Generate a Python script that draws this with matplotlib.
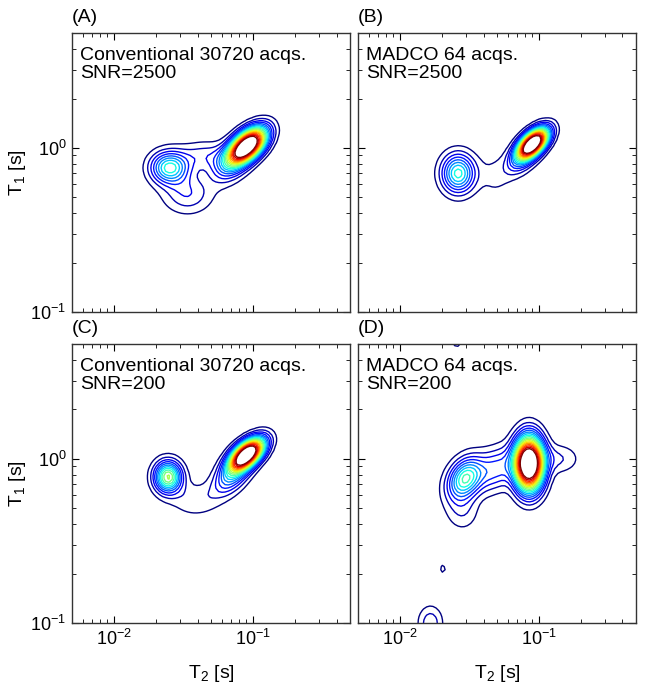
import numpy as np
import matplotlib.pyplot as plt
from matplotlib.ticker import LogLocator, NullFormatter

plt.rcParams['font.family'] = ['Liberation Sans', 'DejaVu Sans']
plt.rcParams['mathtext.fontset'] = 'custom'
plt.rcParams['mathtext.rm'] = 'Liberation Sans'
plt.rcParams['mathtext.it'] = 'Liberation Sans:italic'
plt.rcParams['mathtext.default'] = 'regular'

# peak components:
# log10 centres (T2, T1), log10 widths, tilt, relative height, peak flatness
A_T2 = [-1.03, -1.15, -1.64, -1.56, -1.47, -1.35]
A_T1 = [0.02, -0.08, -0.12, -0.12, -0.28, -0.05]
A_W2 = [0.095, 0.09, 0.08, 0.08, 0.12, 0.12]
A_W1 = [0.077, 0.08, 0.065, 0.065, 0.08, 0.06]
A_RHO = [0.5, 0.4, 0.0, 0.0, 0.0, 0.0]
A_AMP = [1.0, 0.3, 0.23, 0.23, 0.14, 0.12]
A_PWR = [1.15, 1.0, 1.0, 1.0, 1.0, 1.0]

B_T2 = [-1.04, -1.12, -1.58, -1.32]
B_T1 = [0.03, -0.06, -0.155, -0.17]
B_W2 = [0.08, 0.08, 0.08, 0.08]
B_W1 = [0.066, 0.07, 0.08, 0.10]
B_RHO = [0.55, 0.5, 0.0, 0.0]
B_AMP = [1.0, 0.22, 0.40, 0.05]
B_PWR = [1.15, 1.0, 1.0, 1.0]

C_T2 = [-1.04, -1.15, -1.61, -1.42]
C_T1 = [0.03, -0.10, -0.11, -0.25]
C_W2 = [0.09, 0.09, 0.066, 0.12]
C_W1 = [0.07, 0.08, 0.064, 0.07]
C_RHO = [0.55, 0.5, 0.0, 0.0]
C_AMP = [1.0, 0.28, 0.52, 0.08]
C_PWR = [1.15, 1.0, 1.0, 1.0]

D_T2 = [-1.07, -0.86, -1.53, -1.30, -1.55, -1.69, -1.78, -1.59]
D_T1 = [-0.03, 0.0, -0.12, -0.06, -0.32, -0.67, -1.0, 0.71]
D_W2 = [0.077, 0.10, 0.085, 0.10, 0.08, 0.02, 0.06, 0.03]
D_W1 = [0.12, 0.06, 0.085, 0.09, 0.08, 0.025, 0.07, 0.03]
D_RHO = [0.0, 0.0, 0.3, 0.3, 0.0, 0.0, 0.0, 0.0]
D_AMP = [1.0, 0.09, 0.40, 0.19, 0.08, 0.06, 0.12, 0.06]
D_PWR = [1.15, 1.0, 1.0, 1.0, 1.0, 1.0, 1.0, 1.0]

LABELS = ['(A)', '(B)', '(C)', '(D)']
NOTES = ['Conventional 30720 acqs.\nSNR=2500', 'MADCO 64 acqs.\nSNR=2500',
         'Conventional 30720 acqs.\nSNR=200', 'MADCO 64 acqs.\nSNR=200']
LEVELS = np.linspace(0.04, 0.78, 18)

T2_LIM = (0.005, 0.5)
T1_LIM = (0.1, 5.0)


def spectrum(u, v, t2, t1, w2, w1, rho, amp, pwr):
    z = np.zeros_like(u)
    for c2, c1, s2, s1, r, a, p in zip(t2, t1, w2, w1, rho, amp, pwr):
        du = (u - c2) / s2
        dv = (v - c1) / s1
        q = (du ** 2 - 2 * r * du * dv + dv ** 2) / (1 - r ** 2)
        z += a * np.exp(-(0.5 * q) ** p)
    return z / z.max()


u = np.linspace(np.log10(T2_LIM[0]), np.log10(T2_LIM[1]), 90)
v = np.linspace(np.log10(T1_LIM[0]), np.log10(T1_LIM[1]), 90)
U, V = np.meshgrid(u, v)

fields = [
    spectrum(U, V, A_T2, A_T1, A_W2, A_W1, A_RHO, A_AMP, A_PWR),
    spectrum(U, V, B_T2, B_T1, B_W2, B_W1, B_RHO, B_AMP, B_PWR),
    spectrum(U, V, C_T2, C_T1, C_W2, C_W1, C_RHO, C_AMP, C_PWR),
    spectrum(U, V, D_T2, D_T1, D_W2, D_W1, D_RHO, D_AMP, D_PWR),
]
# jet, a touch heavier on the dark blue end like the original
colors = plt.cm.jet(np.linspace(0, 1, len(LEVELS)) ** 1.1)

fig = plt.figure(figsize=(6.45, 6.92), dpi=100)
lefts = [0.1116, 0.555]
bottoms = [0.549, 0.0997]

for i, z in enumerate(fields):
    row, col = divmod(i, 2)
    ax = fig.add_axes([lefts[col], bottoms[row], 0.431, 0.403])
    ax.contour(10 ** U, 10 ** V, z, levels=LEVELS, colors=colors, linewidths=1.0)
    ax.set_xscale('log')
    ax.set_yscale('log')
    ax.set_xlim(*T2_LIM)
    ax.set_ylim(*T1_LIM)
    ax.tick_params(which='both', direction='in', top=True, right=True, labelsize=13, pad=4)
    ax.tick_params(which='major', length=5)
    ax.tick_params(which='minor', length=3)
    ax.xaxis.set_major_locator(LogLocator(base=10, numticks=10))
    ax.yaxis.set_major_locator(LogLocator(base=10, numticks=10))
    for s in ax.spines.values():
        s.set_linewidth(1.0)
        s.set_color('#333333')
    if row == 0:
        ax.xaxis.set_major_formatter(NullFormatter())
    else:
        ax.set_xlabel('T$_2$ [s]', fontsize=14, labelpad=10)
    if col == 1:
        ax.yaxis.set_major_formatter(NullFormatter())
    else:
        ax.set_ylabel('T$_1$ [s]', fontsize=14, labelpad=2)
    ax.xaxis.set_minor_formatter(NullFormatter())
    ax.yaxis.set_minor_formatter(NullFormatter())
    ax.text(0.03, 0.95, NOTES[i], transform=ax.transAxes, ha='left', va='top',
            fontsize=14, linespacing=1.05)
    ax.text(0.0, 1.025, LABELS[i], transform=ax.transAxes, ha='left', va='bottom',
            fontsize=14)

fig.savefig('out.png', dpi=100)
